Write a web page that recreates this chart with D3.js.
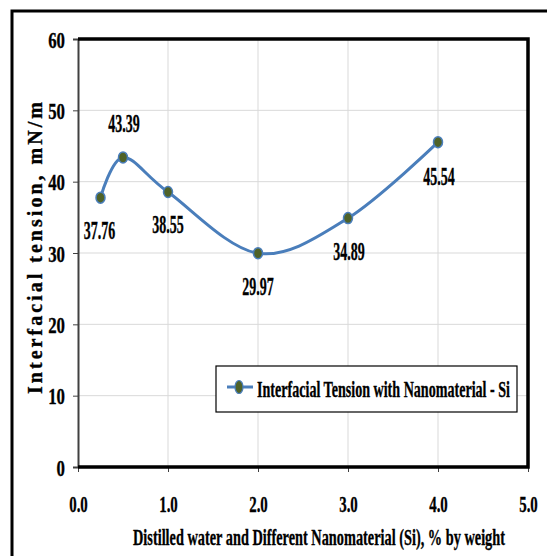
<!DOCTYPE html>
<html>
<head>
<meta charset="utf-8">
<script src="https://cdn.jsdelivr.net/npm/d3@7"></script>
<style>
  body { margin: 0; background: #fff; }
  text { font-family: "Liberation Serif", "Times New Roman", serif; font-weight: bold; stroke: #000; stroke-width: 0.35px; }
</style>
</head>
<body>
<div id="chart"></div>
<script>
const width = 547;
const height = 556;

// data
const concentrations = [0.25, 0.5, 1.0, 2.0, 3.0, 4.0];
const tensions = [37.76, 43.39, 38.55, 29.97, 34.89, 45.54];
const xTicks = [0, 1, 2, 3, 4, 5];
const yTicks = [0, 10, 20, 30, 40, 50, 60];
const seriesName = "Interfacial Tension with Nanomaterial - Si";

// label baseline offsets per point (dx, dy)
const labelPos = [[-1, 41], [1, -25], [0, 41], [0, 42], [1, 42], [1, 43]];

const plot = { left: 78, right: 528, top: 39, bottom: 467 };

const x = d3.scaleLinear().domain([0, 5]).range([plot.left, plot.right]);
const y = d3.scaleLinear().domain([0, 60]).range([plot.bottom, plot.top]);

const svg = d3.select("#chart").append("svg")
  .attr("width", width)
  .attr("height", height);

// squeeze text horizontally, like the narrow bold Times of the original
function squeeze(sel, k) {
  sel.each(function() {
    const w = this.getComputedTextLength();
    this.setAttribute("textLength", w * k);
    this.setAttribute("lengthAdjust", "spacingAndGlyphs");
  });
}

// outer frame (right/bottom fall off the canvas)
svg.append("rect")
  .attr("x", 12).attr("y", 11)
  .attr("width", 560).attr("height", 580)
  .attr("fill", "none").attr("stroke", "#000").attr("stroke-width", 3);

// gridlines
svg.append("g").selectAll("line")
  .data(xTicks.slice(1, -1))
  .enter().append("line")
  .attr("x1", d => x(d)).attr("x2", d => x(d))
  .attr("y1", plot.top).attr("y2", plot.bottom)
  .attr("stroke", "#d9d9d9").attr("stroke-width", 1);
svg.append("g").selectAll("line")
  .data(yTicks.slice(1, -1))
  .enter().append("line")
  .attr("x1", plot.left).attr("x2", plot.right)
  .attr("y1", d => y(d)).attr("y2", d => y(d))
  .attr("stroke", "#d9d9d9").attr("stroke-width", 1);

// axes
const yAxis = svg.append("g")
  .attr("transform", "translate(" + plot.left + ",0)")
  .call(d3.axisLeft(y).tickValues(yTicks).tickSize(5).tickFormat(d3.format("d")));
yAxis.select(".domain").attr("stroke", "#404040").attr("stroke-width", 2);
yAxis.selectAll(".tick line").attr("stroke", "#404040");
yAxis.selectAll(".tick text")
  .attr("x", -13).attr("dy", 8)
  .attr("font-size", 24).attr("fill", "#000")
  .call(squeeze, 0.7);

const xAxis = svg.append("g")
  .attr("transform", "translate(0," + plot.bottom + ")")
  .call(d3.axisBottom(x).tickValues(xTicks).tickSize(5).tickFormat(d3.format(".1f")));
xAxis.select(".domain").attr("stroke", "none");
xAxis.selectAll(".tick line").attr("stroke", "#404040");
xAxis.selectAll(".tick text")
  .attr("y", 45).attr("dy", 0)
  .attr("font-size", 24).attr("fill", "#000")
  .call(squeeze, 0.62);

// plot border: top, right, bottom thick
svg.append("path")
  .attr("d", "M" + plot.left + "," + plot.top + "H" + plot.right + "V" + plot.bottom + "H" + plot.left)
  .attr("fill", "none").attr("stroke", "#000").attr("stroke-width", 3.5);

// series line, Excel-style smoothing
const line = d3.line()
  .x((d, i) => x(concentrations[i]))
  .y(d => y(d))
  .curve(d3.curveCardinal.tension(0));

svg.append("path")
  .datum(tensions)
  .attr("d", line)
  .attr("fill", "none")
  .attr("stroke", "#4a7ebb")
  .attr("stroke-width", 3);

svg.append("g").selectAll("ellipse")
  .data(tensions)
  .enter().append("ellipse")
  .attr("cx", (d, i) => x(concentrations[i]))
  .attr("cy", d => y(d))
  .attr("rx", 4.5).attr("ry", 5.5)
  .attr("fill", "#4f6228")
  .attr("stroke", "#4a7ebb")
  .attr("stroke-width", 1.5);

// data labels
svg.append("g").selectAll("text")
  .data(tensions)
  .enter().append("text")
  .attr("x", (d, i) => x(concentrations[i]) + labelPos[i][0])
  .attr("y", (d, i) => y(d) + labelPos[i][1])
  .attr("text-anchor", "middle")
  .attr("font-size", 25)
  .text(d => d.toFixed(2))
  .call(squeeze, 0.56);

// legend
const lg = svg.append("g");
lg.append("rect")
  .attr("x", 216).attr("y", 366)
  .attr("width", 301).attr("height", 46)
  .attr("fill", "#fff").attr("stroke", "#000").attr("stroke-width", 1.2);
lg.append("line")
  .attr("x1", 227).attr("x2", 253).attr("y1", 387).attr("y2", 387)
  .attr("stroke", "#4a7ebb").attr("stroke-width", 3);
lg.append("ellipse")
  .attr("cx", 239).attr("cy", 387).attr("rx", 4).attr("ry", 6.5)
  .attr("fill", "#4f6228").attr("stroke", "#4a7ebb").attr("stroke-width", 1.2);
lg.append("text")
  .attr("x", 257).attr("y", 397)
  .attr("font-size", 23)
  .attr("textLength", 253)
  .attr("lengthAdjust", "spacingAndGlyphs")
  .text(seriesName);

// axis titles
svg.append("text")
  .attr("x", 319).attr("y", 545)
  .attr("text-anchor", "middle")
  .attr("font-size", 23)
  .attr("textLength", 372)
  .attr("lengthAdjust", "spacingAndGlyphs")
  .text("Distilled water and Different  Nanomaterial (Si), % by weight");

svg.append("text")
  .attr("transform", "translate(42,248) rotate(-90)")
  .attr("text-anchor", "middle")
  .attr("font-size", 20)
  .attr("textLength", 292)
  .attr("lengthAdjust", "spacing")
  .text("Interfacial tension, mN/m");
</script>
</body>
</html>
